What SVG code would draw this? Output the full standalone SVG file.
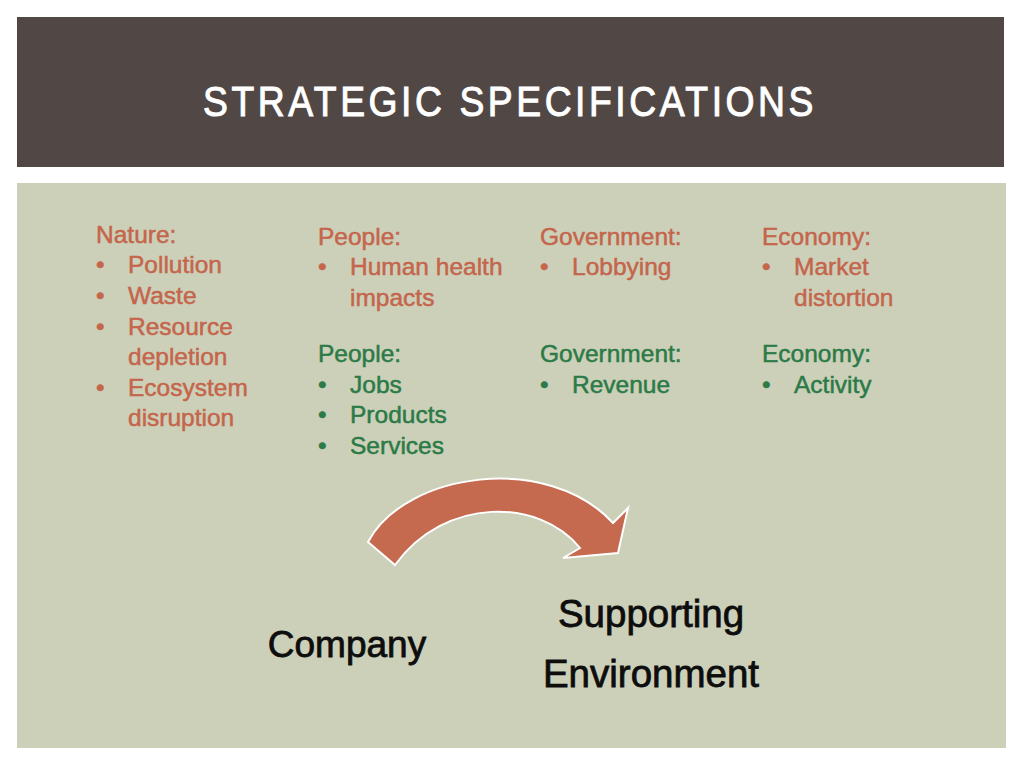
<svg xmlns="http://www.w3.org/2000/svg" width="1024" height="768" viewBox="0 0 1024 768">
<style>
.b{font-family:"Liberation Sans",Arial,sans-serif;font-size:24.5px;stroke-width:0.5px}
.r{fill:#c4654c;stroke:#c4654c}
.g{fill:#2b7a47;stroke:#2b7a47}
.lbl{font-family:"Liberation Sans",Arial,sans-serif;font-size:37px;fill:#0d0d0d;stroke:#0d0d0d;stroke-width:0.8px;text-anchor:middle}
.big{font-size:38.5px}
</style>
<rect width="1024" height="768" fill="#ffffff"/>
<g id="header">
<rect x="17" y="17" width="987" height="150" fill="#514846"/>
<text x="203" y="116" font-family="'Liberation Sans',Arial,sans-serif" font-size="42" letter-spacing="4" fill="#ffffff" stroke="#ffffff" stroke-width="1" textLength="614" lengthAdjust="spacingAndGlyphs">STRATEGIC SPECIFICATIONS</text>
</g>
<rect id="panel" x="17" y="183" width="989" height="565" fill="#ccd0b8"/>
<g id="nature" class="b r">
<text x="96" y="243">Nature:</text>
<text x="96" y="273">•</text><text x="128" y="273">Pollution</text>
<text x="96" y="304">•</text><text x="128" y="304">Waste</text>
<text x="96" y="335">•</text><text x="128" y="335">Resource</text>
<text x="128" y="365">depletion</text>
<text x="96" y="396">•</text><text x="128" y="396">Ecosystem</text>
<text x="128" y="426">disruption</text>
</g>
<g id="people-neg" class="b r">
<text x="318" y="245">People:</text>
<text x="318" y="275">•</text><text x="350" y="275">Human health</text>
<text x="350" y="306">impacts</text>
</g>
<g id="people-pos" class="b g">
<text x="318" y="362">People:</text>
<text x="318" y="393">•</text><text x="350" y="393">Jobs</text>
<text x="318" y="423">•</text><text x="350" y="423">Products</text>
<text x="318" y="454">•</text><text x="350" y="454">Services</text>
</g>
<g id="gov-neg" class="b r">
<text x="540" y="245">Government:</text>
<text x="540" y="275">•</text><text x="572" y="275">Lobbying</text>
</g>
<g id="gov-pos" class="b g">
<text x="540" y="362">Government:</text>
<text x="540" y="393">•</text><text x="572" y="393">Revenue</text>
</g>
<g id="econ-neg" class="b r">
<text x="762" y="245">Economy:</text>
<text x="762" y="275">•</text><text x="794" y="275">Market</text>
<text x="794" y="306">distortion</text>
</g>
<g id="econ-pos" class="b g">
<text x="762" y="362">Economy:</text>
<text x="762" y="393">•</text><text x="794" y="393">Activity</text>
</g>
<g id="connectors">
<path d="M368,542 C405,472 548,452 613,523 L628,508 L618,553 L563,558 L580,548 C540,498 445,496 395,565 Z" fill="#c5694f" stroke="#ffffff" stroke-width="2" stroke-linejoin="miter"/>
</g>
<g id="company"><text class="lbl" x="347" y="657">Company</text></g>
<g id="supporting-environment">
<text class="lbl big" x="651" y="627">Supporting</text>
<text class="lbl big" x="651" y="687">Environment</text>
</g>
</svg>
